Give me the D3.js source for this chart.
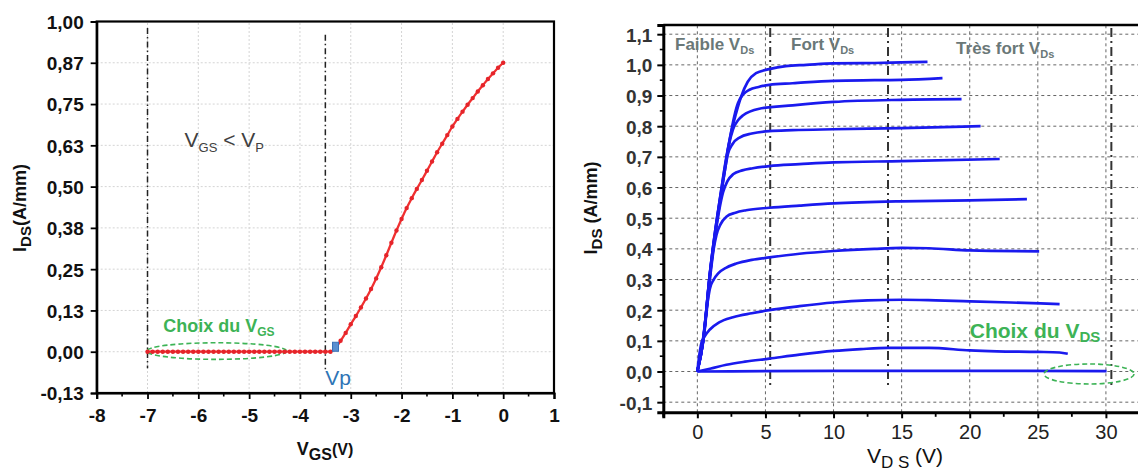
<!DOCTYPE html>
<html><head><meta charset="utf-8">
<script src="https://cdn.jsdelivr.net/npm/d3@7"></script>
<style>
html,body{margin:0;padding:0;background:#fff;}
svg{display:block;font-family:"Liberation Sans",Arial,sans-serif;}
</style></head>
<body>
<svg id="c" width="1138" height="472"></svg>
<script>
// ---------- LEFT CHART DATA : I_DS vs V_GS ----------
const leftXTicks = [-8,-7,-6,-5,-4,-3,-2,-1,0,1];
const leftYTicks = [-0.125,0,0.125,0.25,0.375,0.5,0.625,0.75,0.875,1.0];
const leftYLabels = ["-0,13","0,00","0,13","0,25","0,38","0,50","0,63","0,75","0,87","1,00"];
const vgsFlat = [-7.0,-6.9,-6.8,-6.7,-6.6,-6.5,-6.4,-6.3,-6.2,-6.1,-6.0,-5.9,-5.8,-5.7,-5.6,-5.5,-5.4,-5.3,-5.2,-5.1,-5.0,-4.9,-4.8,-4.7,-4.6,-4.5,-4.4,-4.3,-4.2,-4.1,-4.0,-3.9,-3.8,-3.7,-3.6,-3.5,-3.4];
const idsFlat = [0,0,0,0,0,0,0,0,0,0,0,0,0,0,0,0,0,0,0,0,0,0,0,0,0,0,0,0,0,0,0,0,0,0,0,0,0];
const vgsRise = [-3.3,-3.2,-3.1,-3.0,-2.9,-2.8,-2.7,-2.6,-2.5,-2.4,-2.3,-2.2,-2.1,-2.0,-1.9,-1.8,-1.7,-1.6,-1.5,-1.4,-1.3,-1.2,-1.1,-1.0,-0.9,-0.8,-0.7,-0.6,-0.5,-0.4,-0.3,-0.2,-0.1,0.0];
const idsRise = [0.012,0.033,0.057,0.083,0.108,0.134,0.161,0.19,0.222,0.256,0.292,0.33,0.367,0.402,0.435,0.465,0.493,0.52,0.548,0.576,0.604,0.63,0.656,0.682,0.705,0.727,0.748,0.768,0.788,0.807,0.826,0.843,0.86,0.875];
const vpPoint = [-3.3, 0.015];
const leftDashX = [-7.0, -3.5];

// ---------- RIGHT CHART DATA : I_DS vs V_DS ----------
const rightXTicks = [0,5,10,15,20,25,30];
const rightYTicks = [-0.1,0,0.1,0.2,0.3,0.4,0.5,0.6,0.7,0.8,0.9,1.0,1.1];
const rightYLabels = ["-0,1","0,0","0,1","0,2","0,3","0,4","0,5","0,6","0,7","0,8","0,9","1,0","1,1"];
const rightDashX = [5.35, 14.0, 30.4];
const c1V = [0,0.2,0.44,0.7,0.92,1.3,1.65,2.0,2.37,2.8,3.22,3.7,4.31,5.28,6.5,8,10,13,15,16.9];
const c1I = [0,0.04,0.106,0.22,0.32,0.455,0.561,0.665,0.756,0.835,0.897,0.945,0.973,0.986,0.996,1.0,1.005,1.006,1.008,1.01];
const c2V = [0,0.44,0.92,1.3,1.65,2.0,2.37,2.7,2.98,3.4,3.83,4.5,5.28,7,10,13,15,18.0];
const c2I = [0,0.106,0.32,0.455,0.56,0.66,0.755,0.83,0.875,0.905,0.919,0.928,0.935,0.94,0.948,0.95,0.951,0.957];
const c3V = [0,0.44,0.92,1.3,1.65,2.0,2.3,2.62,3.0,3.34,4.55,7,10,15,19.4];
const c3I = [0,0.105,0.318,0.45,0.555,0.65,0.735,0.79,0.82,0.835,0.857,0.868,0.879,0.886,0.888];
const c4V = [0,0.44,0.92,1.3,1.65,2.0,2.25,2.6,3.1,4,5.28,7,10,15,20.8];
const c4I = [0,0.104,0.315,0.445,0.55,0.65,0.71,0.743,0.763,0.776,0.784,0.787,0.79,0.794,0.80];
const c5V = [0,0.44,0.92,1.3,1.6,1.89,2.2,2.62,3.3,4.07,5.28,7.5,10,15,22.2];
const c5I = [0,0.103,0.31,0.44,0.525,0.585,0.62,0.643,0.656,0.663,0.67,0.676,0.682,0.686,0.693];
const c6V = [0,0.44,0.92,1.2,1.4,1.7,2.13,2.8,3.58,5.28,7.5,10,15,20,24.2];
const c6I = [0,0.1,0.3,0.4,0.445,0.48,0.505,0.518,0.526,0.534,0.541,0.548,0.555,0.558,0.562];
const c7V = [0,0.4,0.75,0.92,1.2,1.53,2.1,2.86,4,5.28,7.5,10,13,15,17,20,25.1];
const c7I = [0,0.1,0.225,0.27,0.3,0.32,0.338,0.352,0.364,0.372,0.384,0.393,0.4,0.403,0.402,0.395,0.392];
const c8V = [0,0.2,0.31,0.5,0.92,1.6,2.62,4,5.28,7.5,10,12.5,15,17.5,20,23,26.6];
const c8I = [0,0.07,0.095,0.112,0.137,0.16,0.177,0.19,0.20,0.213,0.225,0.232,0.234,0.232,0.229,0.225,0.22];
const c9V = [0,1,2.13,3.5,5.28,7.5,10,12,14,17,20,22,25,26.6,27.2];
const c9I = [0,0.01,0.022,0.032,0.042,0.055,0.067,0.073,0.077,0.077,0.069,0.066,0.064,0.062,0.058];
const c10V = [0,10,20,30.05];
const c10I = [0,0.002,0.002,0.001];

// ---------- DRAWING ----------
const svg = d3.select("#c");
const FONT = '"Liberation Sans",Arial,sans-serif';

/* ===== LEFT ===== */
const xL = d3.scaleLinear().domain([-8,1]).range([96.7,554]);
const yL = d3.scaleLinear().domain([-0.125,1.0]).range([393,21.5]);
const gL = svg.append("g");

gL.append("g").selectAll("line").data(leftXTicks.slice(1,-1)).join("line")
  .attr("x1",d=>xL(d)).attr("x2",d=>xL(d)).attr("y1",yL.range()[0]).attr("y2",yL.range()[1])
  .attr("stroke","#d4d4d4").attr("stroke-width",1).attr("stroke-dasharray","2,2");
gL.append("g").selectAll("line").data(leftYTicks.slice(1,-1)).join("line")
  .attr("x1",xL.range()[0]).attr("x2",xL.range()[1]).attr("y1",d=>yL(d)).attr("y2",d=>yL(d))
  .attr("stroke","#d4d4d4").attr("stroke-width",1).attr("stroke-dasharray","2,2");

gL.append("g").selectAll("line").data(leftDashX).join("line")
  .attr("x1",d=>xL(d)).attr("x2",d=>xL(d))
  .attr("y1",(d,i)=>yL(i===0?0.98:0.96)).attr("y2",(d,i)=>yL(i===0?-0.05:-0.06))
  .attr("stroke","#222").attr("stroke-width",1.5).attr("stroke-dasharray","6,3,1.5,3");

const xAxL = d3.axisBottom(xL).tickValues(leftXTicks).tickSize(6).tickPadding(5).tickFormat(d3.format("d"));
const gxL = gL.append("g").attr("transform",`translate(0,${yL(-0.125)})`).call(xAxL);
gxL.selectAll("text").attr("font-family",FONT).attr("font-size",19).attr("font-weight","bold").attr("fill","#111")
  .attr("y",28.5).attr("dy",0).text(d=>d3.format("d")(d).replace("−","-"));
gL.append("g").selectAll("line").data(d3.range(-7.5,1,1)).join("line")
  .attr("x1",d=>xL(d)).attr("x2",d=>xL(d)).attr("y1",yL(-0.125)).attr("y2",yL(-0.125)+3.5)
  .attr("stroke","#000").attr("stroke-width",1.6);
const yAxL = d3.axisLeft(yL).tickValues(leftYTicks).tickSize(6).tickPadding(7).tickFormat((d,i)=>leftYLabels[i]);
const gyL = gL.append("g").attr("transform",`translate(${xL(-8)},0)`).call(yAxL);
gyL.selectAll("text").attr("font-family",FONT).attr("font-size",19).attr("font-weight","bold").attr("fill","#111").attr("dy","0.36em");
[gxL,gyL].forEach(g=>{g.select(".domain").attr("stroke","#000").attr("stroke-width",2.2);
  g.selectAll(".tick line").attr("stroke","#000").attr("stroke-width",1.8);});
gL.append("rect").attr("x",xL(-8)).attr("y",yL(1.0)).attr("width",xL(1)-xL(-8)).attr("height",yL(-0.125)-yL(1.0))
  .attr("fill","none").attr("stroke","#000").attr("stroke-width",2.2);

gL.append("ellipse").attr("cx",xL(-5.64)).attr("cy",yL(0.002)).attr("rx",70).attr("ry",8.3)
  .attr("fill","none").attr("stroke","#3db356").attr("stroke-width",1.6).attr("stroke-dasharray","5,3");

const leftPts = vgsFlat.map((v,i)=>[v,idsFlat[i]]).concat(vgsRise.map((v,i)=>[v,idsRise[i]]));
const lineL = d3.line().x(d=>xL(d[0])).y(d=>yL(d[1])).curve(d3.curveMonotoneX);
gL.append("path").datum(leftPts).attr("d",lineL).attr("fill","none").attr("stroke","#f03030").attr("stroke-width",2.3);
gL.append("g").selectAll("circle").data(leftPts).join("circle")
  .attr("cx",d=>xL(d[0])).attr("cy",d=>yL(d[1])).attr("r",2.2).attr("fill","#e5242a");
gL.append("rect").attr("x",xL(vpPoint[0])-3).attr("y",yL(vpPoint[1])-4.5).attr("width",6).attr("height",9)
  .attr("fill","#5b8fd0").attr("stroke","#3a70b8").attr("stroke-width",1);

const tVgs = gL.append("text").attr("x",xL(-6.27)).attr("y",yL(0.62)).attr("font-family",FONT).attr("font-size",21).attr("fill","#404040");
tVgs.append("tspan").text("V");
tVgs.append("tspan").attr("font-size",13).attr("dy",5).text("GS");
tVgs.append("tspan").attr("dy",-5).text(" < V");
tVgs.append("tspan").attr("font-size",13).attr("dy",5).text("P");
const tCh = gL.append("text").attr("x",xL(-6.69)).attr("y",yL(0.06)).attr("font-family",FONT).attr("font-size",18).attr("font-weight","bold").attr("fill","#3db356");
tCh.append("tspan").text("Choix du V");
tCh.append("tspan").attr("font-size",12).attr("dy",4).text("GS");
gL.append("text").attr("x",xL(-3.5)).attr("y",yL(-0.1)).attr("font-family",FONT).attr("font-size",21).attr("fill","#2e75b6").text("Vp");

const yLab = gL.append("text").attr("transform",`translate(26,208) rotate(-90)`).attr("text-anchor","middle")
  .attr("font-family",FONT).attr("font-size",18).attr("font-weight","bold").attr("fill","#111");
yLab.append("tspan").text("I");
yLab.append("tspan").attr("font-size",15).attr("dy",5).text("DS");
yLab.append("tspan").attr("dy",-5).text("(A/mm)");
const xLab = gL.append("text").attr("x",325).attr("y",455).attr("text-anchor","middle")
  .attr("font-family",FONT).attr("font-size",18).attr("font-weight","bold").attr("fill","#111");
xLab.append("tspan").text("V");
xLab.append("tspan").attr("font-size",16).attr("dy",5).text("GS");
xLab.append("tspan").attr("font-size",16).attr("dy",-5).text("(V)");

/* ===== RIGHT ===== */
const xR = d3.scaleLinear().domain([-2.5,35]).range([663.3,1174]);
const yR = d3.scaleLinear().domain([-0.133,1.13]).range([412.3,25]);
const gR = svg.append("g");

gR.append("g").selectAll("line").data(rightXTicks.concat([35])).join("line")
  .attr("x1",d=>xR(d)).attr("x2",d=>xR(d)).attr("y1",yR.range()[0]).attr("y2",yR.range()[1])
  .attr("stroke","#666").attr("stroke-width",1).attr("stroke-dasharray","3,3");
gR.append("g").selectAll("line").data(rightYTicks).join("line")
  .attr("x1",xR.range()[0]).attr("x2",xR.range()[1]).attr("y1",d=>yR(d)).attr("y2",d=>yR(d))
  .attr("stroke","#666").attr("stroke-width",1).attr("stroke-dasharray","3,3");
gR.append("g").selectAll("line").data(rightDashX).join("line")
  .attr("x1",d=>xR(d)).attr("x2",d=>xR(d)).attr("y1",yR(1.12)).attr("y2",yR(-0.044))
  .attr("stroke","#333").attr("stroke-width",2).attr("stroke-dasharray","9,4,2,4");

const xAxR = d3.axisBottom(xR).tickValues(rightXTicks).tickSize(6).tickPadding(6).tickFormat(d3.format("d"));
const gxR = gR.append("g").attr("transform",`translate(0,${yR(-0.133)})`).call(xAxR);
gxR.selectAll("text").attr("font-family",FONT).attr("font-size",20).attr("fill","#222").attr("y",27).attr("dy",0);
gR.append("g").selectAll("line").data(d3.range(-2.5,35,2.5).filter(v=>!rightXTicks.includes(v))).join("line")
  .attr("x1",d=>xR(d)).attr("x2",d=>xR(d)).attr("y1",yR(-0.133)).attr("y2",yR(-0.133)+4.5)
  .attr("stroke","#000").attr("stroke-width",1.8);
const yAxR = d3.axisLeft(yR).tickValues(rightYTicks).tickSize(6).tickPadding(5).tickFormat((d,i)=>rightYLabels[i]);
const gyR = gR.append("g").attr("transform",`translate(${xR(-2.5)},0)`).call(yAxR);
gyR.selectAll("text").attr("font-family",FONT).attr("font-size",19).attr("font-weight","bold").attr("fill","#333").attr("dy","0.36em");
gR.append("g").selectAll("line").data(d3.range(-0.05,1.11,0.1)).join("line")
  .attr("x1",xR(-2.5)).attr("x2",xR(-2.5)-3.5).attr("y1",d=>yR(d)).attr("y2",d=>yR(d))
  .attr("stroke","#000").attr("stroke-width",1.6);
[gxR,gyR].forEach(g=>{g.select(".domain").attr("stroke","#000").attr("stroke-width",3);
  g.selectAll(".tick line").attr("stroke","#000").attr("stroke-width",2);});
gR.append("line").attr("x1",xR(-2.5)).attr("x2",1138).attr("y1",yR(1.13)).attr("y2",yR(1.13))
  .attr("stroke","#000").attr("stroke-width",2.5);

const curves = [[c1V,c1I],[c2V,c2I],[c3V,c3I],[c4V,c4I],[c5V,c5I],[c6V,c6I],[c7V,c7I],[c8V,c8I],[c9V,c9I],[c10V,c10I]];
const lineR = d3.line().x(d=>xR(d[0])).y(d=>yR(d[1])).curve(d3.curveMonotoneX);
gR.append("g").selectAll("path").data(curves.map(c=>c[0].map((v,i)=>[v,c[1][i]]))).join("path")
  .attr("d",lineR).attr("fill","none").attr("stroke","#1a1aee").attr("stroke-width",2.7).attr("stroke-linejoin","round");

function sub(g,x,y,main,s,size,subSize,color,weight){
  const t=g.append("text").attr("x",x).attr("y",y).attr("font-family",FONT).attr("font-size",size)
    .attr("fill",color).attr("font-weight",weight);
  t.append("tspan").text(main);
  t.append("tspan").attr("font-size",subSize).attr("dy",4).text(s);
  return t;
}
sub(gR,xR(-1.64),yR(1.047),"Faible V","Ds",17,11,"#6a7878","bold");
sub(gR,xR(6.88),yR(1.05),"Fort V","Ds",17,11,"#6a7878","bold");
sub(gR,xR(19.0),yR(1.037),"Très fort V","Ds",17,11,"#6a7878","bold");
sub(gR,xR(20.0),yR(0.109),"Choix du V","DS",21,15,"#3db356","bold");
gR.append("ellipse").attr("cx",xR(28.76)).attr("cy",yR(-0.008)).attr("rx",45).attr("ry",10)
  .attr("fill","none").attr("stroke","#3db356").attr("stroke-width",1.6).attr("stroke-dasharray","5,3");

const yLabR = gR.append("text").attr("transform",`translate(597,208) rotate(-90)`).attr("text-anchor","middle")
  .attr("font-family",FONT).attr("font-size",18).attr("font-weight","bold").attr("fill","#111");
yLabR.append("tspan").text("I");
yLabR.append("tspan").attr("font-size",15).attr("dy",5).text("DS");
yLabR.append("tspan").attr("dy",-5).text(" (A/mm)");
const xLabR = gR.append("text").attr("x",905).attr("y",463).attr("text-anchor","middle")
  .attr("font-family",FONT).attr("font-size",21).attr("fill","#111");
xLabR.append("tspan").text("V");
xLabR.append("tspan").attr("font-size",17).attr("dy",5).text("D S");
xLabR.append("tspan").attr("dy",-5).text(" (V)");
</script>
</body></html>
